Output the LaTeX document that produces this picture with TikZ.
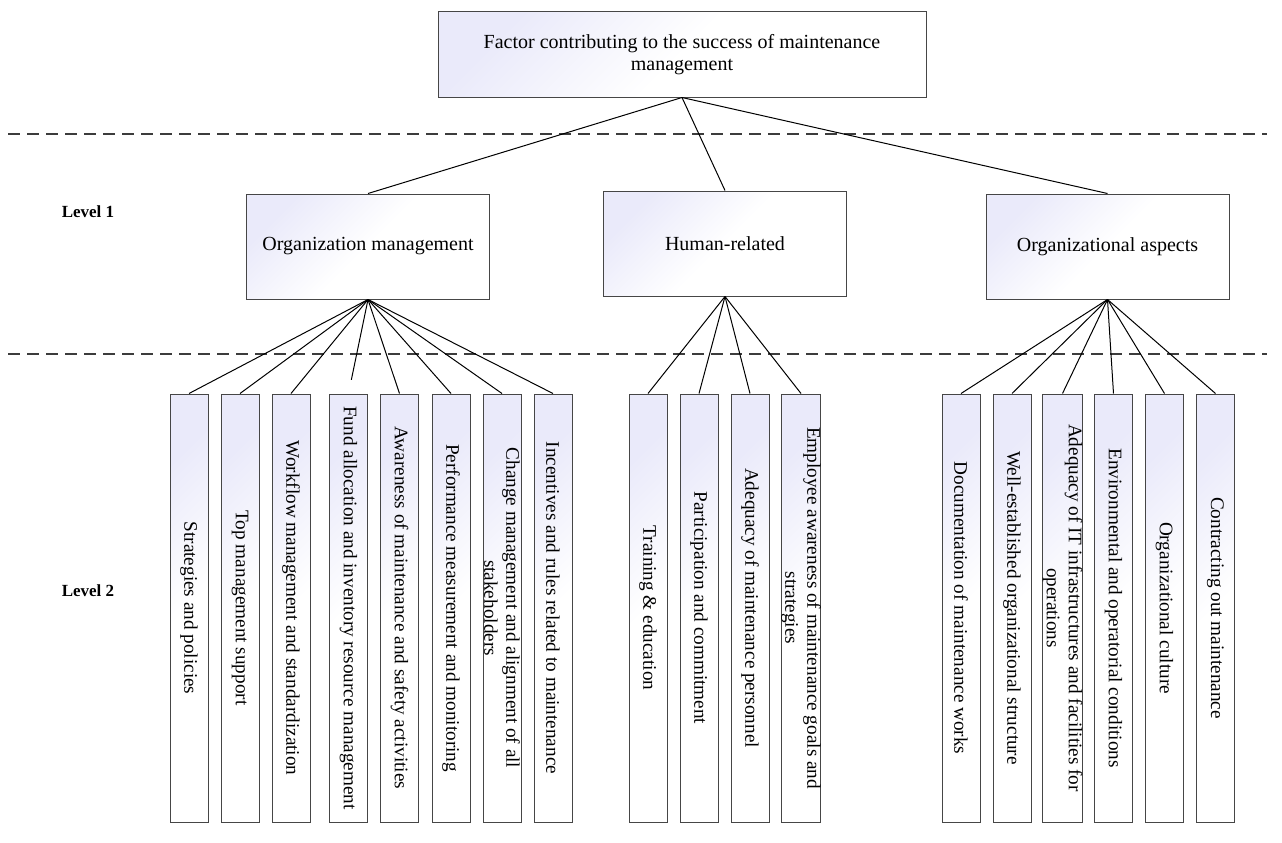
\documentclass[tikz,border=0pt]{standalone}
\usepackage{fontspec}
\setmainfont{Liberation Serif}
\usepackage{tikz}
\usetikzlibrary{positioning, calc}
\usepackage{xcolor}
\definecolor{BoxLavender}{RGB}{234,234,250}
\definecolor{BoxEdge}{RGB}{70,70,70}
\definecolor{DivGray}{RGB}{60,60,60}
\tikzset{
    % Box styles - gradient fill, sharp corners
    factor/.style={
        rectangle,
        draw=BoxEdge,
        top color=BoxLavender,
        bottom color=white,
        middle color=white,
        shading angle=45,
        line width=1pt,
        align=center,
        inner sep=0pt,
        font=\fontsize{20}{22}\selectfont
    },
    category/.style={
        factor,
        minimum width=243pt,
        minimum height=105pt
    },
    leaf/.style={
        factor,
        rotate=-90,
        minimum width=428pt,
        minimum height=38pt,
        font=\fontsize{19.2}{22}\selectfont
    },
    levellabel/.style={
        font=\fontsize{17}{20}\selectfont\bfseries
    },
    % Line styles
    link/.style={
        line width=1pt,
        draw=black
    },
    divider/.style={
        line width=1.3pt,
        draw=DivGray,
        dash pattern=on 12pt off 7pt
    }
}
\begin{document}
\begin{tikzpicture}[x=1pt, y=1pt]
    \useasboundingbox (0,0) rectangle (1282,-843);

    % level dividers
    \coordinate (d1a) at (8,-134);
    \coordinate (d1b) at (1267,-134);
    \coordinate (d2a) at (8,-354);
    \coordinate (d2b) at (1267,-354);
    \draw[divider] (d1a) -- (d1b);
    \draw[divider] (d2a) -- (d2b);

    \node[levellabel] (lv1) at (88,-212) {Level 1};
    \node[levellabel] (lv2) at (88,-591) {Level 2};

    % root
    \node[factor, minimum width=488pt, minimum height=85pt] (root) at (682,-54.5)
        {Factor contributing to the success of maintenance\\management};

    % level 1
    \node[category] (om) at (368,-246.5) {Organization management};
    \node[category] (hr) at (725,-243.5) {Human-related};
    \node[category] (oa) at (1107.5,-246.5) {Organizational aspects};

    % level 2 - organization management
    \node[leaf] (om1) at (189,-608) {Strategies and policies};
    \node[leaf] (om2) at (240,-608) {Top management support};
    \node[leaf] (om3) at (291,-608) {Workflow management and standardization};
    \node[leaf] (om4) at (348.5,-608) {Fund allocation and inventory resource management};
    \node[leaf] (om5) at (399.5,-608) {Awareness of maintenance and safety activities};
    \node[leaf] (om6) at (451,-608) {Performance measurement and monitoring};
    \node[leaf] (om7) at (502,-608) {Change management and alignment of all\\stakeholders};
    \node[leaf] (om8) at (553,-608) {Incentives and rules related to maintenance};

    % level 2 - human-related
    \node[leaf] (hr1) at (648,-608) {Training \& education};
    \node[leaf] (hr2) at (699,-608) {Participation and commitment};
    \node[leaf] (hr3) at (750,-608) {Adequacy of maintenance personnel};
    \node[leaf] (hr4) at (801,-608) {Employee awareness of maintenance goals and\\strategies};

    % level 2 - organizational aspects
    \node[leaf] (oa1) at (961,-608) {Documentation of maintenance works};
    \node[leaf] (oa2) at (1012,-608) {Well-established organizational structure};
    \node[leaf] (oa3) at (1062.5,-608) {Adequacy of IT infrastructures and facilities for\\operations};
    \node[leaf] (oa4) at (1113.5,-608) {Environmental and operatorial conditions};
    \node[leaf] (oa5) at (1164.5,-608) {Organizational culture};
    \node[leaf] (oa6) at (1215.5,-608) {Contracting out maintenance};

    % connectors
    \draw[link] (root.south) -- (om.north);
    \draw[link] (root.south) -- (hr.north);
    \draw[link] (root.south) -- (oa.north);

    \foreach \i in {1,2,3,5,6,7,8}
        \draw[link] (om.south) -- (om\i.west);
    \draw[link, shorten >=14pt] (om.south) -- (om4.west);
    \foreach \i in {1,...,4}
        \draw[link] (hr.south) -- (hr\i.west);
    \foreach \i in {1,...,6}
        \draw[link] (oa.south) -- (oa\i.west);
\end{tikzpicture}
\end{document}
